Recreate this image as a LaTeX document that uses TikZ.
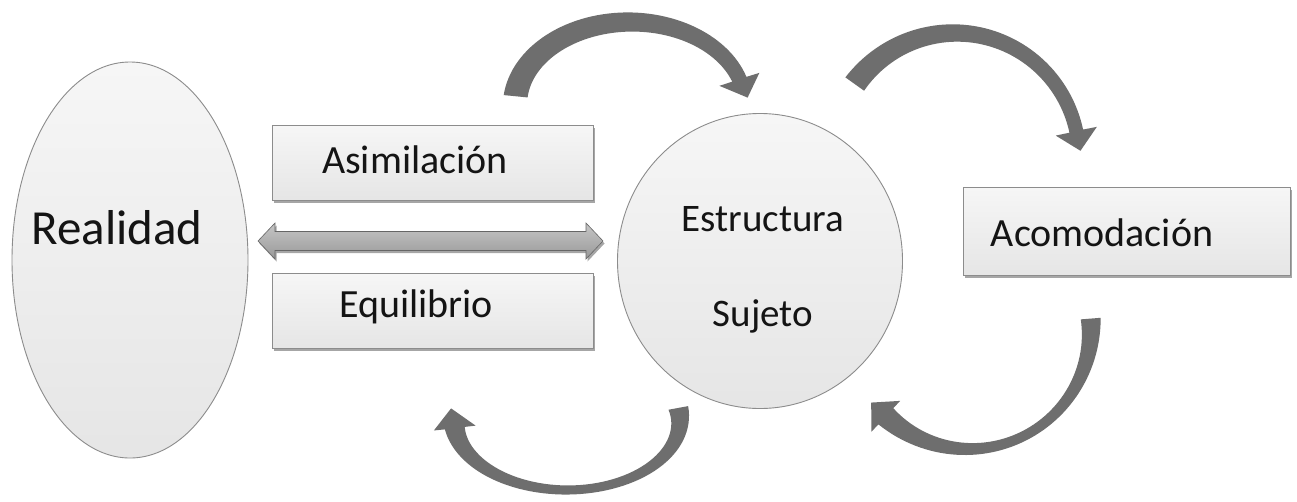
\documentclass[tikz,border=0pt]{standalone}
\usepackage{fontspec}
\setmainfont{Carlito}
\usetikzlibrary{shapes.geometric,shadows,calc}
\definecolor{arrowgray}{HTML}{6E6E6E}
\definecolor{edgegray}{HTML}{8C8C8C}
\definecolor{txt}{HTML}{141414}
\def\headw{21}
\def\headl{20}
\newcommand{\bentarrow}[9]{%
  \pgfmathsetmacro\bsg{(#6>#5)?1:-1}%
  \pgfmathsetmacro\btx{-(#3)*sin(#6)*\bsg}%
  \pgfmathsetmacro\bty{-(#4)*cos(#6)*\bsg}%
  \pgfmathsetmacro\btn{veclen(\btx,\bty)}%
  \pgfmathsetmacro\bux{\btx/\btn}%
  \pgfmathsetmacro\buy{\bty/\btn}%
  \fill[bentfill] plot[domain=0:1,samples=60,variable=\pp]
     ({#1+(#3+(#7)*(1-\pp)+(#8)*\pp-4*(#9)*\pp*(1-\pp))*cos(#5+(#6-(#5))*\pp)},
      {#2-(#4+(#7)*(1-\pp)+(#8)*\pp-4*(#9)*\pp*(1-\pp))*sin(#5+(#6-(#5))*\pp)})
   -- ({#1+(#3+\headw)*cos(#6)},{#2-(#4+\headw)*sin(#6)})
   -- ({#1+(#3)*cos(#6)+\headl*\bux},{#2-(#4)*sin(#6)+\headl*\buy})
   -- ({#1+(#3-\headw)*cos(#6)},{#2-(#4-\headw)*sin(#6)})
   -- plot[domain=0:1,samples=60,variable=\pp]
     ({#1+(#3-(#7)*\pp-(#8)*(1-\pp)+4*(#9)*\pp*(1-\pp))*cos(#6+(#5-(#6))*\pp)},
      {#2-(#4-(#7)*\pp-(#8)*(1-\pp)+4*(#9)*\pp*(1-\pp))*sin(#6+(#5-(#6))*\pp)})
   -- cycle;
}
\tikzset{
  bentfill/.style={fill=arrowgray},
  softshadow/.style={drop shadow={shadow xshift=1.5pt,shadow yshift=-2.5pt,opacity=0.35,fill=black}},
  shapefill/.style={top color=gray!7,bottom color=gray!20,draw=edgegray,line width=0.9pt},
  boxnode/.style={shapefill,rectangle,inner sep=0pt,softshadow},
  ovalnode/.style={shapefill,ellipse,inner sep=0pt},
  lbl/.style={text=txt,inner sep=0pt,font=\fontsize{40}{48}\selectfont},
  clbl/.style={text=txt,inner sep=0pt,font=\fontsize{39}{46}\selectfont},
  rlbl/.style={text=txt,inner sep=0pt,font=\fontsize{49}{58}\selectfont},
}
\begin{document}
\begin{tikzpicture}[x=1pt,y=-1pt]
\useasboundingbox (0,0) rectangle (1297,501);
\fill[white] (0,0) rectangle (1297,501);

% main shapes
\node[ovalnode,minimum width=236pt,minimum height=396pt] (real) at (130,260) {};
\node[rlbl] (realtxt) at (117,228) {Realidad};

\node[ovalnode,minimum width=285pt,minimum height=295pt] (suj) at (760,261) {};
\node[clbl] (estr) at (763,219) {Estructura};
\node[clbl] (sujt) at (763,316) {Sujeto};

\node[boxnode,minimum width=321pt,minimum height=75pt] (asim) at (432.5,162.5) {};
\node[lbl] (asimt) at (415,160) {Asimilación};
\node[boxnode,minimum width=321pt,minimum height=75pt] (equi) at (432.5,310.5) {};
\node[lbl] (equit) at (416,307) {Equilibrio};
\node[boxnode,minimum width=327pt,minimum height=88pt] (acom) at (1126.5,231) {};
\node[lbl] (acomt) at (1102,233) {Acomodación};

% double arrow between Realidad and Sujeto
\coordinate (dl) at (258,241);
\coordinate (dr) at (603,241);
\shade[top color=gray!45,bottom color=gray!80,draw=gray!80!black,line width=0.6pt,softshadow]
  (dl) -- ($(dl)+(17,-18)$) -- ($(dl)+(17,-9.5)$) -- ($(dr)+(-17,-9.5)$) -- ($(dr)+(-17,-18)$)
  -- (dr) -- ($(dr)+(-17,18)$) -- ($(dr)+(-17,9.5)$) -- ($(dl)+(17,9.5)$) -- ($(dl)+(17,18)$) -- cycle;

% curved block arrows
\bentarrow{630}{105}{115}{83}{174}{18}{12}{7.5}{0}
\bentarrow{955}{157}{124}{124}{144}{12}{11.5}{7}{1}
\bentarrow{969}{327}{122}{122}{4}{-133}{10}{11}{5.5}
\bentarrow{567}{420}{113}{70}{10}{-173.4}{10}{10}{5.5}
\end{tikzpicture}
\end{document}
